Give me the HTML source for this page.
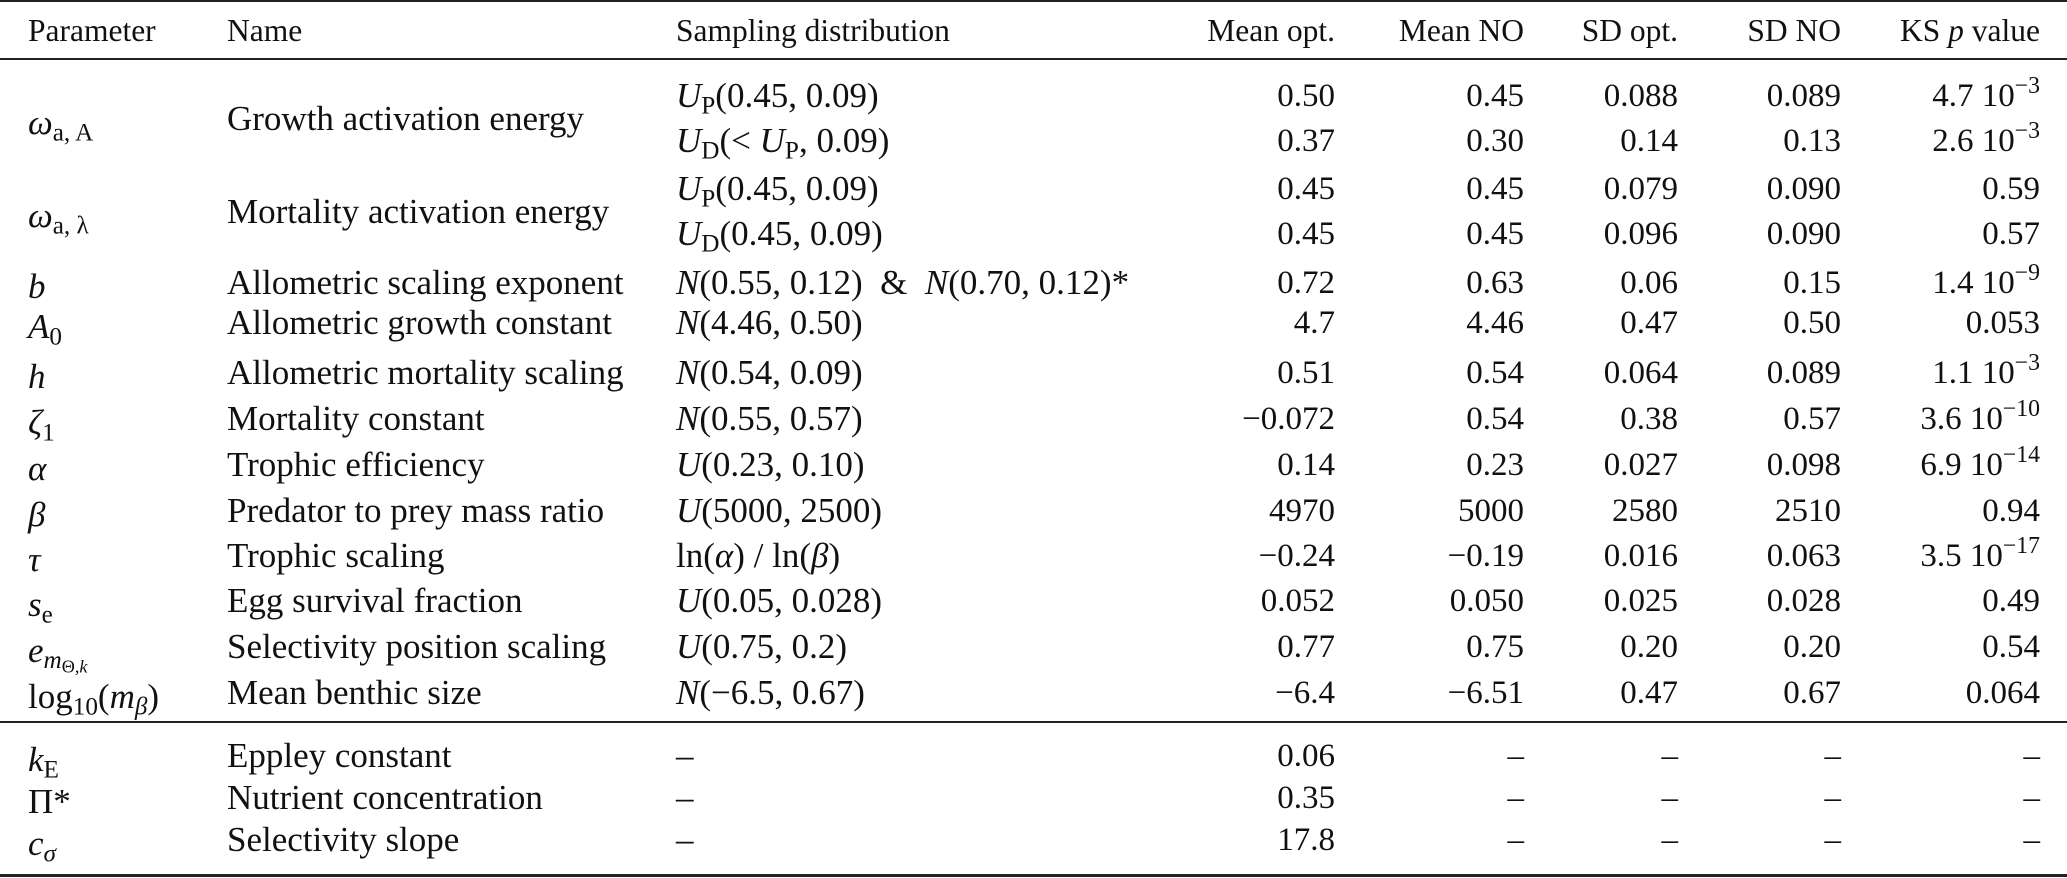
<!DOCTYPE html>
<html><head><meta charset="utf-8"><style>
body{margin:0;background:#fff;}
#t{position:relative;width:2067px;height:878px;overflow:hidden;font-family:"Liberation Serif","DejaVu Serif",serif;font-size:35px;color:#111;}
.c{position:absolute;white-space:nowrap;line-height:40px;height:40px;}
.r{text-align:right;font-size:33px;}
.h{font-size:31.5px;}
.rule{position:absolute;left:0;width:2067px;background:#222;}
sub{font-size:0.72em;vertical-align:-0.25em;line-height:0;}
sup{font-size:0.72em;vertical-align:0.55em;line-height:0;}
i{font-style:italic;}
</style></head><body>
<div id="t"></div>
<script>
const headers=["Parameter","Name","Sampling distribution","Mean opt.","Mean NO","SD opt.","SD NO","KS <i>p</i> value"];
const params=['<i>ω</i><sub>a, A</sub>','','<i>ω</i><sub>a, λ</sub>','','<i>b</i>','<i>A</i><sub>0</sub>','<i>h</i>','<i>ζ</i><sub>1</sub>','<i>α</i>','<i>β</i>','<i>τ</i>','<i>s</i><sub>e</sub>','<i>e</i><sub><i>m</i><sub>Θ,<i>k</i></sub></sub>','log<sub>10</sub>(<i>m</i><sub><i>β</i></sub>)','<i>k</i><sub>E</sub>','Π*','<i>c</i><sub><i>σ</i></sub>'];
const names=["Growth activation energy","","Mortality activation energy","","Allometric scaling exponent","Allometric growth constant","Allometric mortality scaling","Mortality constant","Trophic efficiency","Predator to prey mass ratio","Trophic scaling","Egg survival fraction","Selectivity position scaling","Mean benthic size","Eppley constant","Nutrient concentration","Selectivity slope"];
const dists=['<i>U</i><sub>P</sub>(0.45, 0.09)','<i>U</i><sub>D</sub>(&lt; <i>U</i><sub>P</sub>, 0.09)','<i>U</i><sub>P</sub>(0.45, 0.09)','<i>U</i><sub>D</sub>(0.45, 0.09)','<i>N</i>(0.55, 0.12) &nbsp;&amp;&nbsp; <i>N</i>(0.70, 0.12)*','<i>N</i>(4.46, 0.50)','<i>N</i>(0.54, 0.09)','<i>N</i>(0.55, 0.57)','<i>U</i>(0.23, 0.10)','<i>U</i>(5000, 2500)','ln(<i>α</i>) / ln(<i>β</i>)','<i>U</i>(0.05, 0.028)','<i>U</i>(0.75, 0.2)','<i>N</i>(−6.5, 0.67)','–','–','–'];
const meanOpt=["0.50","0.37","0.45","0.45","0.72","4.7","0.51","−0.072","0.14","4970","−0.24","0.052","0.77","−6.4","0.06","0.35","17.8"];
const meanNO=["0.45","0.30","0.45","0.45","0.63","4.46","0.54","0.54","0.23","5000","−0.19","0.050","0.75","−6.51","–","–","–"];
const sdOpt=["0.088","0.14","0.079","0.096","0.06","0.47","0.064","0.38","0.027","2580","0.016","0.025","0.20","0.47","–","–","–"];
const sdNO=["0.089","0.13","0.090","0.090","0.15","0.50","0.089","0.57","0.098","2510","0.063","0.028","0.20","0.67","–","–","–"];
const ks=["4.7 10<sup>−3</sup>","2.6 10<sup>−3</sup>","0.59","0.57","1.4 10<sup>−9</sup>","0.053","1.1 10<sup>−3</sup>","3.6 10<sup>−10</sup>","6.9 10<sup>−14</sup>","0.94","3.5 10<sup>−17</sup>","0.49","0.54","0.064","–","–","–"];
const T=document.getElementById('t');
const rowY=[96,141,189,234,283,323,373,419,465,511,556,601,647,693,756,798,840];
const leftX=[28,227,676];
const rightX=[1335,1524,1678,1841,2040];
function cell(html,x,y,right){const d=document.createElement('div');d.className='c'+(right?' r':'');d.innerHTML=html;d.style.top=(y-20)+'px';if(right){d.style.right=(2067-x)+'px';}else{d.style.left=x+'px';}T.appendChild(d);return d;}
function rule(y,h){const d=document.createElement('div');d.className='rule';d.style.top=y+'px';d.style.height=h+'px';


T.appendChild(d);}
rule(0,2);rule(58,2);rule(721,2);rule(874,3);
headers.forEach((h,i)=>{const d=i<3?cell(h,leftX[i],31,false):cell(h,rightX[i-3],31,true);
d.classList.add('h');

});
for(let r=0;r<17;r++){
 let y=rowY[r];
 let py=(r<4)?(r<2?(rowY[0]+rowY[1])/2:(rowY[2]+rowY[3])/2):y;
 if(params[r]){const d=cell(params[r],leftX[0],py+4,false);
 
 }
 if(names[r]){const d=cell(names[r],leftX[1],py,false);
 
 }
 const dd=cell(dists[r],leftX[2],y,false);
 
 
 [meanOpt,meanNO,sdOpt,sdNO,ks].forEach((arr,k)=>{const d=cell(arr[r],rightX[k],y,true);
 
 });
}
</script>
</body></html>
